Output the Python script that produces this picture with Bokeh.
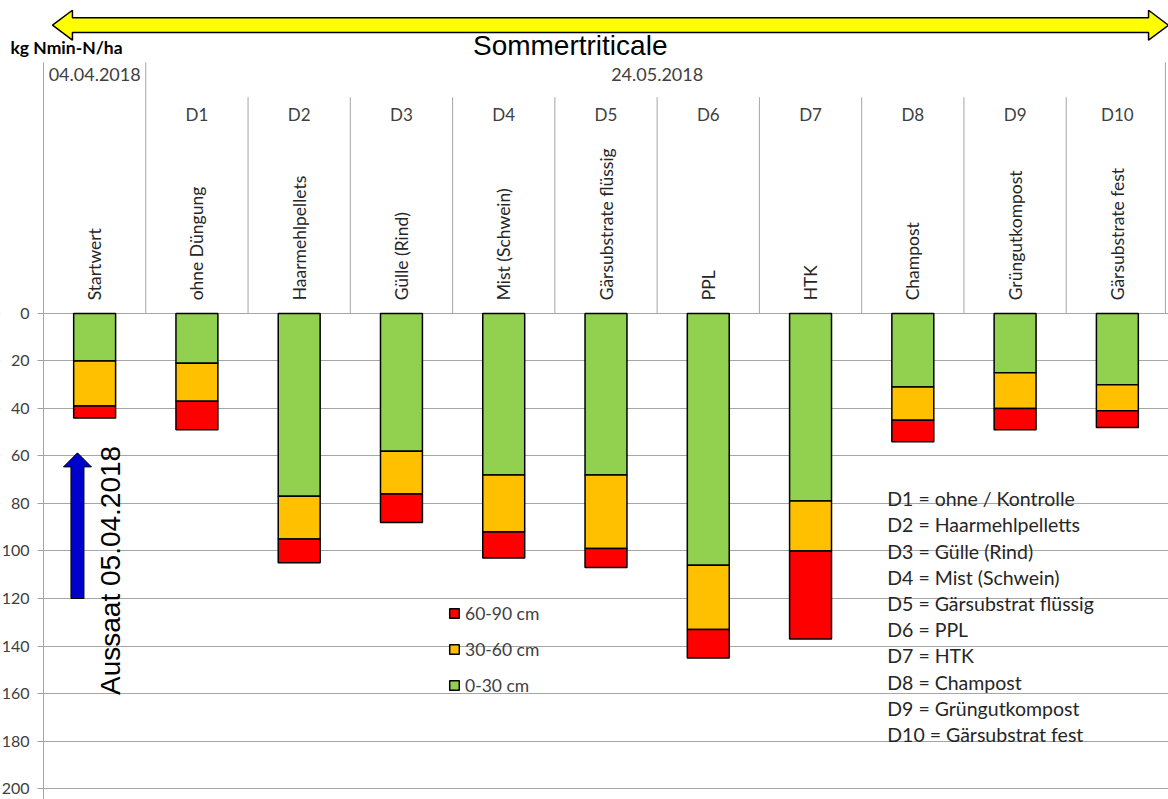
import math
from bokeh.plotting import figure
from bokeh.models import Range1d, ColumnDataSource, FixedTicker, Legend, LegendItem
from bokeh.core.properties import value
from bokeh.embed import file_html
from bokeh.resources import INLINE

# ---------------- data ----------------
categories = ["Startwert", "ohne Düngung", "Haarmehlpellets", "Gülle (Rind)", "Mist (Schwein)",
              "Gärsubstrate flüssig", "PPL", "HTK", "Champost", "Grüngutkompost", "Gärsubstrate fest"]
codes = ["", "D1", "D2", "D3", "D4", "D5", "D6", "D7", "D8", "D9", "D10"]
dates = ["04.04.2018", "24.05.2018"]
n_0_30 = [20, 21, 77, 58, 68, 68, 106, 79, 31, 25, 30]
n_30_60 = [19, 16, 18, 18, 24, 31, 27, 21, 14, 15, 11]
n_60_90 = [5, 12, 10, 12, 11, 8, 12, 37, 9, 9, 7]
depth_labels = ["0-30 cm", "30-60 cm", "60-90 cm"]
depth_colors = ["#92D050", "#FFC000", "#FF0000"]
y_ticks = [0, 20, 40, 60, 80, 100, 120, 140, 160, 180, 200]
key_lines = ["D1 = ohne / Kontrolle", "D2 = Haarmehlpelletts", "D3 = Gülle (Rind)",
             "D4 = Mist (Schwein)", "D5 = Gärsubstrat flüssig", "D6 = PPL", "D7 = HTK",
             "D8 = Champost", "D9 = Grüngutkompost", "D10 = Gärsubstrat fest"]
title_text = "Sommertriticale"
y_title = "kg Nmin-N/ha"
sowing_text = "Aussaat 05.04.2018"

CAL = "Lato"
ARIAL = "Liberation Sans"

n = len(categories)
xs = list(range(n))
x_left = -0.9205   # room for the value axis inside the frame
y_bottom, y_top = 204.6, -131.7

p = figure(width=1168, height=799, output_backend="svg", toolbar_location=None,
           x_range=Range1d(x_left, n - 0.5), y_range=Range1d(y_bottom, y_top),
           x_axis_location=None, min_border_left=0, min_border_right=0,
           min_border_top=0, min_border_bottom=0)
p.outline_line_color = None
p.background_fill_color = "white"
p.border_fill_color = "white"

# value axis, drawn at the left edge of the category area
ax = p.yaxis[0]
ax.fixed_location = -0.5
ax.ticker = FixedTicker(ticks=y_ticks)
ax.axis_line_color = None
ax.major_tick_line_color = "#A0A0A0"
ax.major_tick_out = 6
ax.major_tick_in = 0
ax.minor_tick_line_color = None
ax.major_label_standoff = 8
ax.major_label_text_font = CAL
ax.major_label_text_font_size = "16px"
ax.major_label_text_color = "#404040"

p.xgrid.grid_line_color = None
p.ygrid.ticker = FixedTicker(ticks=y_ticks)
p.ygrid.grid_line_color = "#A6A6A6"
p.ygrid.grid_line_width = 1

# keep grid lines out of the label margin
p.quad(left=[x_left], right=[-0.5], bottom=[y_bottom], top=[y_top], fill_color="white", line_color=None)

# stacked bars
src = ColumnDataSource(dict(x=xs, g=n_0_30, o=n_30_60, r=n_60_90))
rs = p.vbar_stack(["g", "o", "r"], x="x", width=0.41, source=src,
                  fill_color=depth_colors, line_color="black", line_width=1.5)

# header table lines
hdr_top = -105.7
hdr_mid = -91.0
p.segment(x0=[-0.5], y0=[hdr_top], x1=[-0.5], y1=[y_bottom], line_color="#A6A6A6", line_width=1)
p.segment(x0=[0.5, n - 0.53], y0=[hdr_top, hdr_top], x1=[0.5, n - 0.53], y1=[0, 0],
          line_color="#A6A6A6", line_width=1)
bx = [i + 0.5 for i in range(1, n - 1)]
p.segment(x0=bx, y0=[hdr_mid] * len(bx), x1=bx, y1=[0] * len(bx), line_color="#A6A6A6", line_width=1)

# header texts
p.text(x=[0, n / 2.0], y=[-100.4, -100.4], text=dates, text_font=value(CAL),
       text_font_size="18px", text_color="#404040", text_align="center", text_baseline="middle")
p.text(x=xs[1:], y=[-83.6] * (n - 1), text=codes[1:], text_font=value(CAL),
       text_font_size="17px", text_color="#404040", text_align="center", text_baseline="middle")
p.text(x=xs, y=[-5.5] * n, text=categories, angle=math.pi / 2, text_font=value(CAL),
       text_font_size="17.5px", text_color="#262626", text_align="left", text_baseline="middle")

# titles
p.text(x=[4.65], y=[-112.6], text=[title_text], text_font=value(ARIAL), text_font_size="28px",
       text_color="black", text_align="center", text_baseline="middle")
p.text(x=[-0.8227], y=[-112.0], text=[y_title], text_font=value(CAL), text_font_size="17.5px",
       text_font_style="bold", text_color="black", text_align="left", text_baseline="middle")

# yellow double arrow
yc = -121.3
sh, hh = 3.1, 6.3
xl, xlb, xrb, xr = -0.412, -0.217, n - 0.695, n - 0.5
p.patch(x=[xl, xlb, xlb, xrb, xrb, xr, xrb, xrb, xlb, xlb],
        y=[yc, yc - hh, yc - sh, yc - sh, yc - hh, yc, yc + hh, yc + sh, yc + sh, yc + hh],
        fill_color="#FFFF00", line_color="black", line_width=1.5)

# blue arrow (sowing)
xc = -0.168
tip, hb, bot = 58.7, 64.6, 120
sw, hw = 0.0635, 0.137
p.patch(x=[xc, xc + hw, xc + sw, xc + sw, xc - sw, xc - sw, xc - hw],
        y=[tip, hb, hb, bot, bot, hb, hb], fill_color="#0000CC", line_color="black", line_width=1)
p.text(x=[0.155], y=[160.6], text=[sowing_text], angle=math.pi / 2, text_font=value(ARIAL),
       text_font_size="28px", text_color="black", text_align="left", text_baseline="middle")

# key list
p.text(x=[7.75] * len(key_lines), y=[78.0 + 11.03 * i for i in range(len(key_lines))], text=key_lines,
       text_font=value(CAL), text_font_size="19.5px", text_color="#262626",
       text_align="left", text_baseline="middle")

# legend
legend = Legend(items=[LegendItem(label=depth_labels[2], renderers=[rs[2]]),
                       LegendItem(label=depth_labels[1], renderers=[rs[1]]),
                       LegendItem(label=depth_labels[0], renderers=[rs[0]])],
                location=(448, 96), orientation="vertical", glyph_width=12, glyph_height=12,
                label_height=36, spacing=0, padding=0, margin=0, label_standoff=5,
                label_text_font=CAL, label_text_font_size="17.5px", label_text_color="#404040",
                border_line_color=None, background_fill_alpha=0)
p.add_layout(legend, "center")

open("out.html", "w").write(file_html(p, INLINE))
